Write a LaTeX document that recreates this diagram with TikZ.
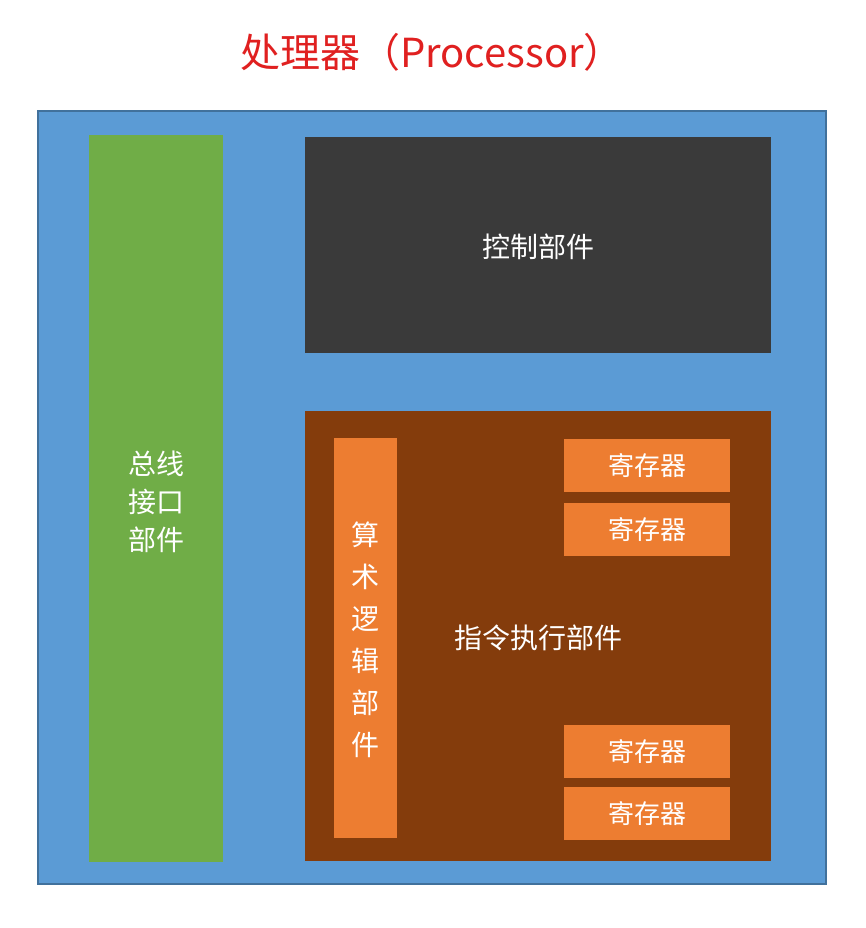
\documentclass[tikz,border=0pt]{standalone}
\usepackage{fontspec}
\newfontfamily\cjk{Noto Sans CJK SC}
\definecolor{bblue}{HTML}{5B9BD5}
\definecolor{bborder}{HTML}{41719C}
\definecolor{bgreen}{HTML}{70AD47}
\definecolor{bdark}{HTML}{3A3A3A}
\definecolor{bbrown}{HTML}{843C0C}
\definecolor{borange}{HTML}{ED7D31}
\definecolor{tred}{HTML}{E02020}
\tikzset{
  box/.style={draw=none, inner sep=0pt, anchor=north west},
  lbl/.style={text=white, font=\cjk\fontsize{28}{38}\selectfont, align=center},
  reg/.style={box, fill=borange, minimum width=166pt, minimum height=53pt, text=white, font=\cjk\fontsize{26}{30}\selectfont, anchor=north west}
}
\begin{document}
\begin{tikzpicture}[x=1pt,y=-1pt]
\useasboundingbox (0,0) rectangle (865,928);
\fill[white] (0,0) rectangle (865,928);
\node[text=tred, font=\cjk\fontsize{40}{46}\selectfont] (title) at (432,52) {处理器（Processor）};
\node[box, fill=bblue, draw=bborder, line width=2pt, minimum width=788pt, minimum height=773pt] (outer) at (37,110) {};
\node[box, fill=bgreen, minimum width=134pt, minimum height=727pt] (bus) at (89,135) {};
\node[lbl] (buslbl) at (156,502) {总线\\接口\\部件};
\node[box, fill=bdark, minimum width=466pt, minimum height=216pt] (ctrl) at (305,137) {};
\node[lbl] (ctrllbl) at (538,247) {控制部件};
\node[box, fill=bbrown, minimum width=466pt, minimum height=450pt] (exec) at (305,411) {};
\node[lbl] (execlbl) at (538,638) {指令执行部件};
\node[box, fill=borange, minimum width=63pt, minimum height=400pt] (alu) at (334,438) {};
\node[lbl, font=\cjk\fontsize{28}{42}\selectfont] (alulbl) at (365.5,640) {算\\术\\逻\\辑\\部\\件};
\node[reg] (r1) at (564,439) {寄存器};
\node[reg] (r2) at (564,503) {寄存器};
\node[reg] (r3) at (564,725) {寄存器};
\node[reg] (r4) at (564,787) {寄存器};
\end{tikzpicture}
\end{document}
